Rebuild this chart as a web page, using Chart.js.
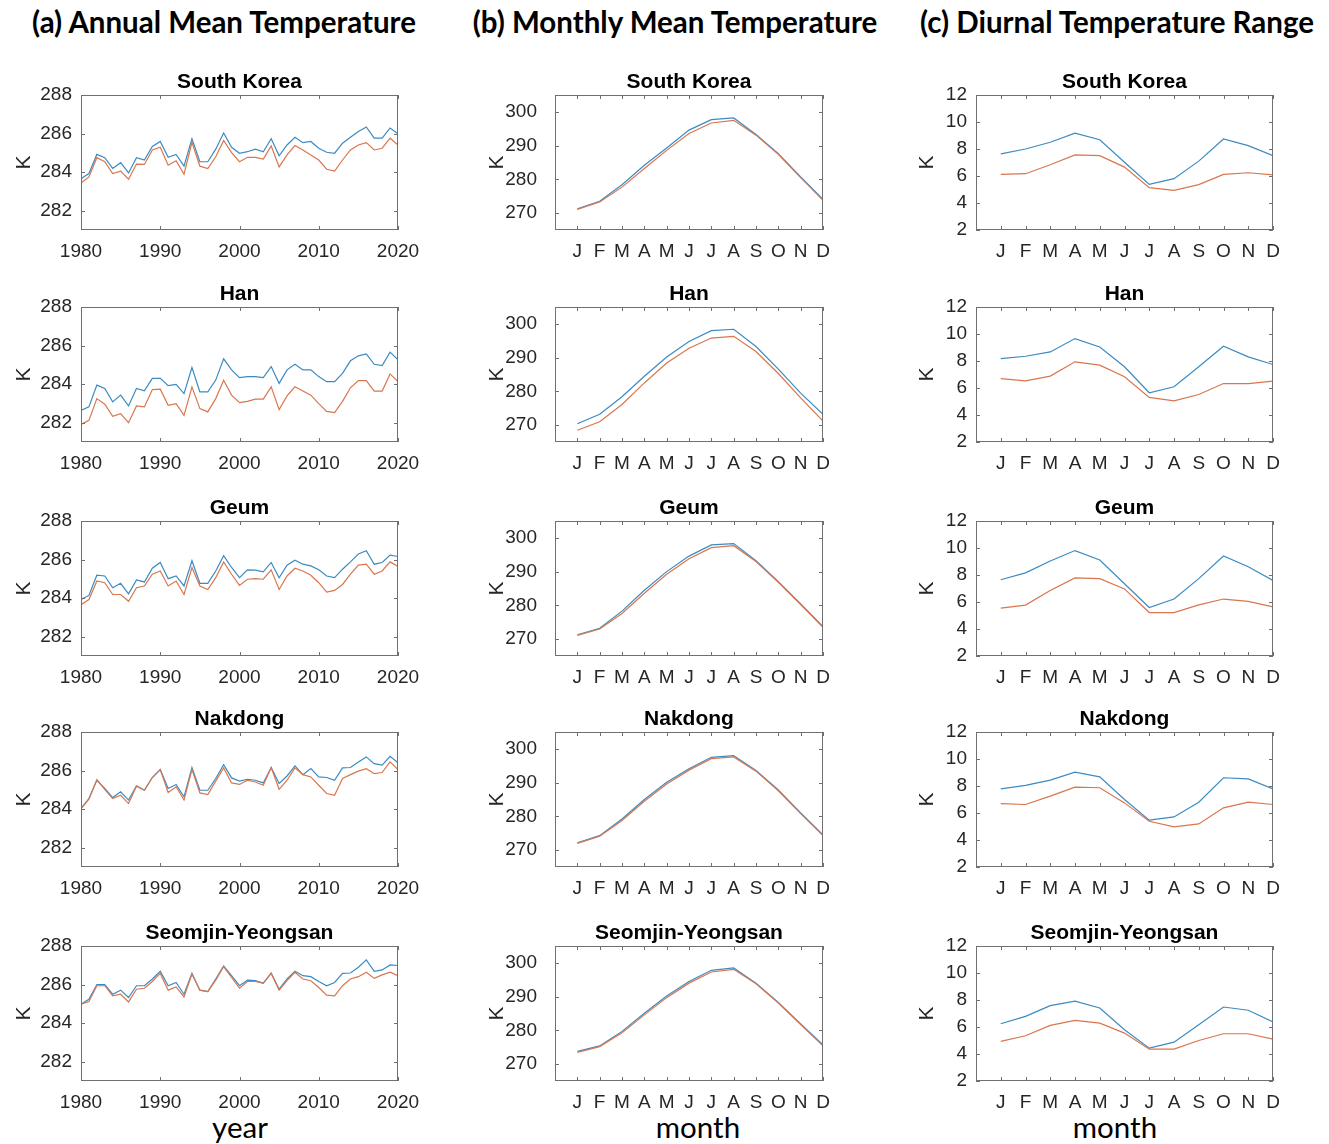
<!DOCTYPE html>
<html>
<head>
<meta charset="utf-8">
<script src="https://cdn.jsdelivr.net/npm/chart.js@4"></script>
<style>
  body { margin: 0; background: #fff; width: 1329px; height: 1144px; position: relative; overflow: hidden; }
  canvas { position: absolute; }
  .head { position: absolute; width: 500px; top: 7px; line-height: 30px; text-align: center; white-space: nowrap;
          font-family: Lato, "Open Sans", sans-serif; font-weight: 700; font-size: 29.5px; color: #000; }
  .xlab { position: absolute; width: 200px; top: 1112px; line-height: 30px; text-align: center;
          font-family: Lato, "Open Sans", sans-serif; font-size: 29.5px; color: #000; }
</style>
</head>
<body>
<div class="head" style="left:-26px">(a) Annual Mean Temperature</div>
<div class="head" style="left:425px">(b) Monthly Mean Temperature</div>
<div class="head" style="left:867px">(c) Diurnal Temperature Range</div>
<div class="xlab" style="left:140px">year</div>
<div class="xlab" style="left:598px">month</div>
<div class="xlab" style="left:1015px">month</div>
<script>
// ---- data ----
const years = [1980, 1981, 1982, 1983, 1984, 1985, 1986, 1987, 1988, 1989,
  1990, 1991, 1992, 1993, 1994, 1995, 1996, 1997, 1998, 1999,
  2000, 2001, 2002, 2003, 2004, 2005, 2006, 2007, 2008, 2009,
  2010, 2011, 2012, 2013, 2014, 2015, 2016, 2017, 2018, 2019, 2020];
const monthNums = [1, 2, 3, 4, 5, 6, 7, 8, 9, 10, 11, 12];
const monthLabels = ['J', 'F', 'M', 'A', 'M', 'J', 'J', 'A', 'S', 'O', 'N', 'D'];
const regions = ['South Korea', 'Han', 'Geum', 'Nakdong', 'Seomjin-Yeongsan'];

const yearTicks = [1980, 1990, 2000, 2010, 2020];
const annualTicks = [282, 284, 286, 288];
const monthlyTicks = [270, 280, 290, 300];
const dtrTicks = [2, 4, 6, 8, 10, 12];

// (a) annual mean temperature, K
const annualSouthKoreaBlue = [283.66, 283.93, 284.92, 284.75, 284.19, 284.49, 283.96, 284.75, 284.63, 285.33,
  285.59, 284.77, 284.92, 284.31, 285.73, 284.54, 284.54, 285.19, 286.03, 285.29,
  284.98, 285.06, 285.19, 285.06, 285.73, 284.85, 285.41, 285.81, 285.53, 285.59,
  285.24, 285.03, 284.98, 285.50, 285.81, 286.11, 286.34, 285.76, 285.76, 286.29, 285.99];
const annualSouthKoreaOrange = [283.44, 283.75, 284.75, 284.54, 283.93, 284.05, 283.63, 284.42, 284.40, 285.15,
  285.29, 284.36, 284.59, 283.89, 285.55, 284.31, 284.19, 284.80, 285.64, 285.01,
  284.54, 284.77, 284.77, 284.68, 285.36, 284.27, 284.89, 285.38, 285.15, 284.89,
  284.63, 284.15, 284.05, 284.63, 285.15, 285.41, 285.53, 285.15, 285.24, 285.76, 285.41];
const annualHanBlue = [282.64, 282.82, 283.95, 283.78, 283.08, 283.43, 282.87, 283.78, 283.65, 284.30,
  284.30, 283.92, 283.99, 283.51, 284.86, 283.60, 283.60, 284.21, 285.31, 284.74,
  284.34, 284.39, 284.39, 284.34, 284.91, 284.04, 284.74, 285.03, 284.74, 284.74,
  284.39, 284.13, 284.13, 284.56, 285.21, 285.47, 285.57, 285.03, 284.96, 285.66, 285.26];
const annualHanOrange = [281.91, 282.12, 283.25, 282.96, 282.33, 282.47, 282.00, 282.87, 282.82, 283.72,
  283.74, 282.90, 282.99, 282.38, 283.86, 282.73, 282.56, 283.25, 284.20, 283.43,
  283.04, 283.11, 283.22, 283.22, 283.86, 282.68, 283.39, 283.86, 283.64, 283.43,
  282.99, 282.59, 282.52, 283.11, 283.81, 284.18, 284.18, 283.64, 283.64, 284.53, 284.13];
const annualGeumBlue = [283.93, 284.14, 285.19, 285.15, 284.54, 284.77, 284.22, 284.94, 284.84, 285.55,
  285.85, 285.01, 285.15, 284.63, 285.94, 284.77, 284.77, 285.41, 286.20, 285.59,
  285.06, 285.47, 285.45, 285.36, 285.85, 285.06, 285.71, 285.97, 285.76, 285.67,
  285.47, 285.15, 285.06, 285.50, 285.88, 286.29, 286.46, 285.76, 285.85, 286.23, 286.16];
const annualGeumOrange = [283.66, 283.93, 284.89, 284.80, 284.19, 284.19, 283.84, 284.54, 284.63, 285.24,
  285.41, 284.63, 284.89, 284.19, 285.59, 284.63, 284.45, 285.06, 285.88, 285.24,
  284.66, 284.98, 285.01, 284.98, 285.47, 284.45, 285.15, 285.55, 285.41, 285.19,
  284.80, 284.31, 284.40, 284.71, 285.24, 285.71, 285.76, 285.24, 285.41, 285.88, 285.64];
const annualNakdongBlue = [284.03, 284.55, 285.50, 285.07, 284.60, 284.90, 284.47, 285.21, 284.98, 285.64,
  286.05, 285.07, 285.28, 284.64, 286.16, 284.98, 284.98, 285.59, 286.31, 285.62,
  285.45, 285.55, 285.50, 285.36, 286.16, 285.33, 285.72, 286.24, 285.79, 286.10,
  285.67, 285.64, 285.50, 286.14, 286.16, 286.45, 286.71, 286.36, 286.28, 286.74, 286.40];
const annualNakdongOrange = [284.03, 284.52, 285.53, 285.03, 284.55, 284.72, 284.29, 285.19, 284.98, 285.64,
  286.05, 284.86, 285.16, 284.47, 286.05, 284.84, 284.76, 285.45, 286.14, 285.36,
  285.28, 285.50, 285.41, 285.24, 286.16, 285.03, 285.50, 286.14, 285.79, 285.67,
  285.24, 284.81, 284.72, 285.59, 285.79, 285.97, 286.10, 285.84, 285.90, 286.45, 286.05];
const annualSeomjinBlue = [284.98, 285.24, 286.00, 286.00, 285.50, 285.71, 285.33, 285.94, 285.94, 286.29,
  286.69, 285.94, 286.11, 285.50, 286.58, 285.71, 285.64, 286.29, 286.96, 286.46,
  285.94, 286.23, 286.20, 286.08, 286.60, 285.76, 286.29, 286.69, 286.46, 286.41,
  286.16, 285.94, 286.11, 286.58, 286.60, 286.90, 287.28, 286.69, 286.76, 287.02, 286.99];
const annualSeomjinOrange = [284.98, 285.12, 285.94, 285.94, 285.41, 285.50, 285.10, 285.76, 285.81, 286.16,
  286.58, 285.71, 285.88, 285.36, 286.55, 285.71, 285.64, 286.23, 286.93, 286.37,
  285.81, 286.16, 286.16, 286.06, 286.58, 285.71, 286.20, 286.64, 286.29, 286.20,
  285.85, 285.45, 285.41, 285.94, 286.29, 286.41, 286.64, 286.32, 286.50, 286.64, 286.46];

// (b) monthly mean temperature, K
const monthlySouthKoreaBlue = [271.3, 273.5, 278.4, 284.2, 289.3, 294.6, 297.7, 298.2, 293.3, 287.6, 280.7, 274.1];
const monthlySouthKoreaOrange = [271.1, 273.3, 277.7, 283.2, 288.6, 293.6, 296.7, 297.5, 293.1, 287.4, 280.5, 273.8];
const monthlyHanBlue = [270.4, 273.2, 278.4, 284.5, 290.2, 294.8, 298.0, 298.4, 293.3, 286.6, 279.5, 273.2];
const monthlyHanOrange = [268.5, 271.0, 276.1, 282.5, 288.4, 292.8, 295.8, 296.3, 291.8, 285.3, 278.1, 271.2];
const monthlyGeumBlue = [271.3, 273.2, 278.3, 284.5, 290.0, 294.6, 297.9, 298.3, 293.2, 287.0, 280.4, 273.7];
const monthlyGeumOrange = [271.1, 273.0, 277.6, 283.6, 289.2, 293.8, 297.1, 297.7, 293.0, 286.8, 280.2, 273.5];
const monthlyNakdongBlue = [272.2, 274.3, 279.2, 285.0, 290.1, 294.1, 297.5, 298.0, 293.6, 287.8, 281.0, 274.5];
const monthlyNakdongOrange = [272.0, 274.1, 278.8, 284.5, 289.6, 293.7, 297.1, 297.6, 293.4, 287.6, 280.8, 274.3];
const monthlySeomjinBlue = [273.8, 275.4, 279.7, 285.1, 290.2, 294.5, 297.8, 298.5, 294.0, 288.3, 281.9, 275.7];
const monthlySeomjinOrange = [273.5, 275.2, 279.3, 284.6, 289.7, 294.0, 297.3, 298.1, 293.8, 288.1, 281.7, 275.4];

// (c) diurnal temperature range, K
const dtrSouthKoreaBlue = [7.64, 8.00, 8.50, 9.18, 8.69, 7.02, 5.38, 5.80, 7.10, 8.74, 8.25, 7.51];
const dtrSouthKoreaOrange = [6.12, 6.17, 6.83, 7.56, 7.51, 6.66, 5.14, 4.94, 5.36, 6.12, 6.24, 6.09];
const dtrHanBlue = [8.18, 8.35, 8.67, 9.66, 9.04, 7.57, 5.65, 6.09, 7.57, 9.09, 8.31, 7.74];
const dtrHanOrange = [6.70, 6.53, 6.88, 7.94, 7.69, 6.83, 5.30, 5.05, 5.52, 6.33, 6.33, 6.51];
const dtrGeumBlue = [7.65, 8.16, 9.04, 9.81, 9.11, 7.35, 5.59, 6.22, 7.73, 9.41, 8.61, 7.60];
const dtrGeumOrange = [5.54, 5.77, 6.85, 7.78, 7.73, 6.97, 5.22, 5.22, 5.79, 6.22, 6.05, 5.64];
const dtrNakdongBlue = [7.79, 8.04, 8.44, 9.03, 8.68, 7.00, 5.47, 5.71, 6.80, 8.61, 8.53, 7.79];
const dtrNakdongOrange = [6.70, 6.63, 7.25, 7.92, 7.87, 6.75, 5.39, 4.97, 5.19, 6.38, 6.80, 6.63];
const dtrSeomjinBlue = [6.24, 6.79, 7.58, 7.91, 7.41, 5.80, 4.43, 4.88, 6.17, 7.48, 7.24, 6.37];
const dtrSeomjinOrange = [4.93, 5.35, 6.12, 6.49, 6.29, 5.55, 4.36, 4.36, 5.00, 5.50, 5.50, 5.10];

// ---- layout ----
const plotTops = [95, 307, 521, 732, 946];
const PLOT_H = 135;
const ML = 80, MT = 32, MR = 32, MB = 45;
const BLUE = '#3b8bc2';
const ORANGE = '#d9764e';
const TICK_FONT = { family: '"Liberation Sans", Arial, sans-serif', size: 19 };

const columns = [
  { left: 81, width: 317, xMin: 1980, xMax: 2020, xTicks: yearTicks, xLabel: v => String(v),
    yMin: 281, yMax: 288, yTicks: annualTicks, tickPad: 9, kPad: 11, xs: years,
    series: [[annualSouthKoreaBlue, annualSouthKoreaOrange], [annualHanBlue, annualHanOrange],
             [annualGeumBlue, annualGeumOrange], [annualNakdongBlue, annualNakdongOrange],
             [annualSeomjinBlue, annualSeomjinOrange]] },
  { left: 555, width: 268, xMin: 0, xMax: 12, xTicks: monthNums, xLabel: v => monthLabels[v - 1],
    yMin: 265, yMax: 305, yTicks: monthlyTicks, tickPad: 18, kPad: 10, xs: monthNums,
    series: [[monthlySouthKoreaBlue, monthlySouthKoreaOrange], [monthlyHanBlue, monthlyHanOrange],
             [monthlyGeumBlue, monthlyGeumOrange], [monthlyNakdongBlue, monthlyNakdongOrange],
             [monthlySeomjinBlue, monthlySeomjinOrange]] },
  { left: 976, width: 297, xMin: 0, xMax: 12, xTicks: monthNums, xLabel: v => monthLabels[v - 1],
    yMin: 2, yMax: 12, yTicks: dtrTicks, tickPad: 9, kPad: 19, xs: monthNums,
    series: [[dtrSouthKoreaBlue, dtrSouthKoreaOrange], [dtrHanBlue, dtrHanOrange],
             [dtrGeumBlue, dtrGeumOrange], [dtrNakdongBlue, dtrNakdongOrange],
             [dtrSeomjinBlue, dtrSeomjinOrange]] }
];

// matlab-like box with inward ticks on all four sides, plus the panel title
const boxPlugin = {
  id: 'boxPlugin',
  afterDraw(chart, args, opts) {
    const { ctx, chartArea: a, scales } = chart;
    const len = 4;
    ctx.save();
    ctx.strokeStyle = '#707070';
    ctx.lineWidth = 1;
    ctx.strokeRect(Math.round(a.left) + 0.5, Math.round(a.top) + 0.5,
      Math.round(a.width) - 1, Math.round(a.height) - 1);
    ctx.beginPath();
    scales.x.ticks.forEach(t => {
      const px = Math.round(scales.x.getPixelForValue(t.value)) + 0.5;
      ctx.moveTo(px, a.bottom); ctx.lineTo(px, a.bottom - len);
      ctx.moveTo(px, a.top); ctx.lineTo(px, a.top + len);
    });
    scales.y.ticks.forEach(t => {
      const py = Math.round(scales.y.getPixelForValue(t.value)) + 0.5;
      ctx.moveTo(a.left, py); ctx.lineTo(a.left + len, py);
      ctx.moveTo(a.right, py); ctx.lineTo(a.right - len, py);
    });
    ctx.stroke();
    ctx.fillStyle = '#000';
    ctx.font = 'bold 21px "Liberation Sans", Arial, sans-serif';
    ctx.textAlign = 'center';
    ctx.textBaseline = 'alphabetic';
    ctx.fillText(opts.text, (a.left + a.right) / 2, a.top - 7);
    ctx.restore();
  }
};

function addPanel(col, row) {
  const [blue, orange] = col.series[row];
  const canvas = document.createElement('canvas');
  canvas.width = col.width + ML + MR;
  canvas.height = PLOT_H + MT + MB;
  canvas.style.left = (col.left - ML) + 'px';
  canvas.style.top = (plotTops[row] - MT) + 'px';
  document.body.appendChild(canvas);

  new Chart(canvas, {
    type: 'line',
    data: {
      datasets: [
        { data: col.xs.map((x, i) => ({ x, y: blue[i] })), borderColor: BLUE, order: 1 },
        { data: col.xs.map((x, i) => ({ x, y: orange[i] })), borderColor: ORANGE, order: 0 }
      ]
    },
    options: {
      responsive: false,
      animation: false,
      layout: { padding: { top: MT, right: MR, left: 0, bottom: 0 } },
      elements: { point: { radius: 0 }, line: { borderWidth: 1.2, tension: 0 } },
      plugins: { legend: { display: false }, tooltip: { enabled: false }, boxPlugin: { text: regions[row] } },
      scales: {
        x: {
          type: 'linear', min: col.xMin, max: col.xMax,
          grid: { display: false, drawTicks: false },
          border: { display: false },
          afterBuildTicks: s => { s.ticks = col.xTicks.map(v => ({ value: v })); },
          afterFit: s => { s.height = MB; },
          ticks: { color: '#262626', font: TICK_FONT, padding: 10, maxRotation: 0, autoSkip: false,
                   callback: v => col.xLabel(v) }
        },
        y: {
          min: col.yMin, max: col.yMax,
          grid: { display: false, drawTicks: false },
          border: { display: false },
          afterBuildTicks: s => { s.ticks = col.yTicks.map(v => ({ value: v })); },
          afterFit: s => { s.width = ML; },
          ticks: { color: '#262626', font: TICK_FONT, padding: col.tickPad, callback: v => String(v) },
          title: { display: true, text: 'K', color: '#262626', padding: { top: col.kPad, bottom: 0 },
                   font: { family: '"Liberation Sans", Arial, sans-serif', size: 21 } }
        }
      }
    },
    plugins: [boxPlugin]
  });
}

columns.forEach(col => regions.forEach((r, row) => addPanel(col, row)));
</script>
</body>
</html>
